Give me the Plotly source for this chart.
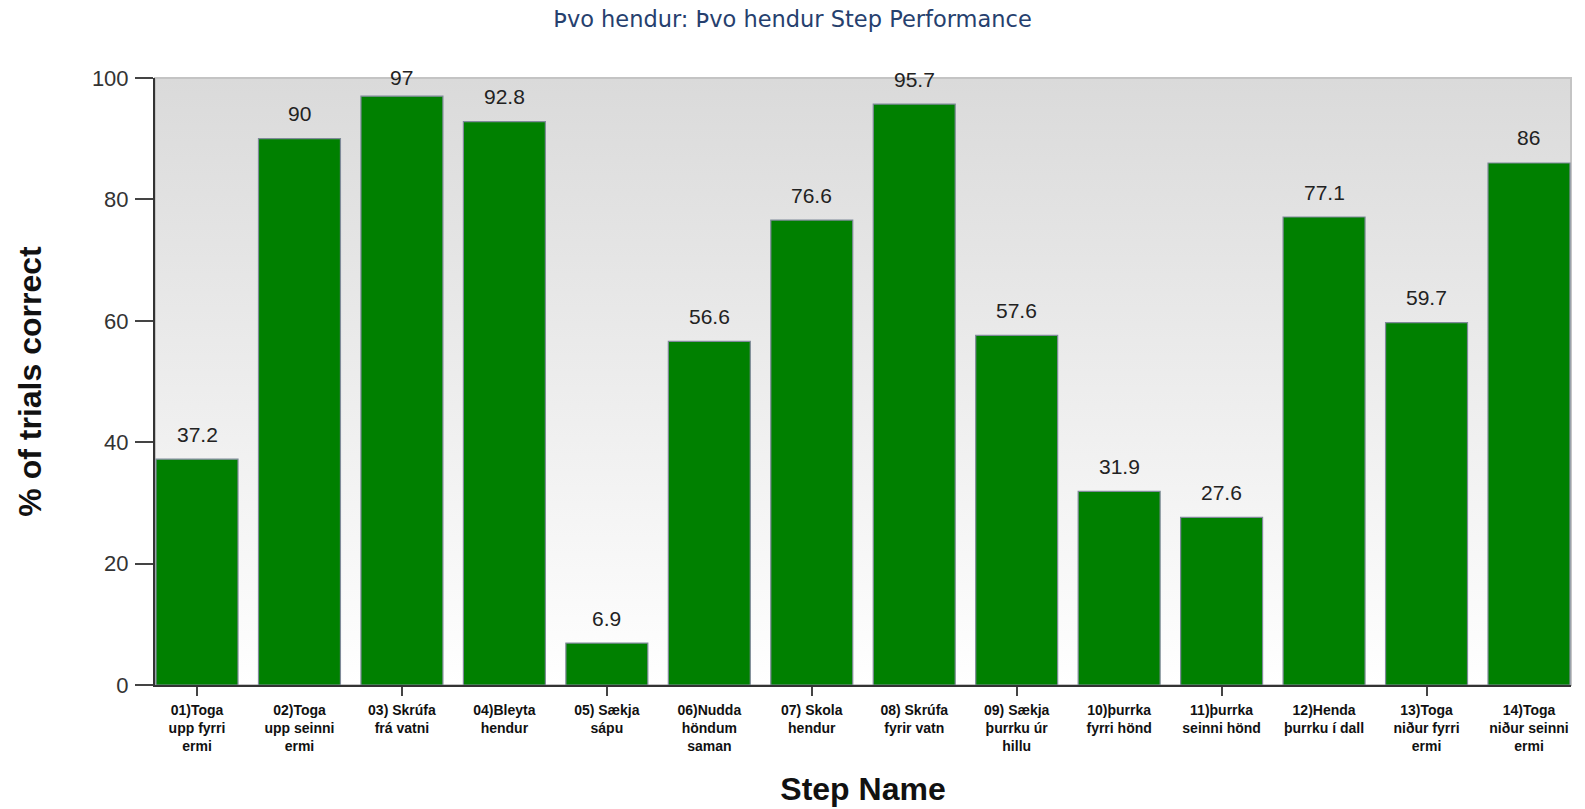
import base64
import plotly.graph_objects as go

title_text = "Þvo hendur: Þvo hendur Step Performance"
step_labels = [
    "01)Toga<br>upp fyrri<br>ermi",
    "02)Toga<br>upp seinni<br>ermi",
    "03) Skrúfa<br>frá vatni",
    "04)Bleyta<br>hendur",
    "05) Sækja<br>sápu",
    "06)Nudda<br>höndum<br>saman",
    "07) Skola<br>hendur",
    "08) Skrúfa<br>fyrir vatn",
    "09) Sækja<br>þurrku úr<br>hillu",
    "10)þurrka<br>fyrri hönd",
    "11)þurrka<br>seinni hönd",
    "12)Henda<br>þurrku í dall",
    "13)Toga<br>niður fyrri<br>ermi",
    "14)Toga<br>niður seinni<br>ermi",
]
pct_correct = [37.2, 90, 97, 92.8, 6.9, 56.6, 76.6, 95.7, 57.6, 31.9, 27.6, 77.1, 59.7, 86]
y_ticks = [0, 20, 40, 60, 80, 100]

positions = list(range(len(step_labels)))
FONT = "Liberation Sans, Arial, sans-serif"

H, MT, MB = 809, 78, 124
Y_MAX = 100
px_per_unit = (H - MT - MB) / Y_MAX

svg = ('<svg xmlns="http://www.w3.org/2000/svg" width="100" height="100" preserveAspectRatio="none">'
       '<defs><linearGradient id="g" x1="0" y1="0" x2="0" y2="1">'
       '<stop offset="0" stop-color="#dadada"/><stop offset="1" stop-color="#ffffff"/>'
       '</linearGradient></defs><rect width="100" height="100" fill="url(#g)"/></svg>')
bg_uri = "data:image/svg+xml;base64," + base64.b64encode(svg.encode()).decode()

fig = go.Figure()
fig.add_trace(go.Bar(
    x=positions, y=pct_correct, width=0.8,
    marker=dict(color="#008000", line=dict(color="#7f8a99", width=1.2)),
    hoverinfo="x+y", showlegend=False,
))

for p, v in zip(positions, pct_correct):
    shift = min(25, (Y_MAX - v) * px_per_unit + 1)  # value labels kept near the plot top
    fig.add_annotation(x=p, y=v, text=f"{v:g}", showarrow=False, yanchor="middle", yshift=shift,
                       font=dict(family=FONT, size=21, color="#222222"))

xr = [-0.41, len(step_labels) - 1 + 0.41]
label_pos = [p + 1e-6 for p in positions]  # labels at every step; tick marks (minor) on every other step
fig.update_layout(
    width=1585, height=H,
    margin=dict(l=155, r=14, t=MT, b=MB, autoexpand=False),
    paper_bgcolor="white", plot_bgcolor="rgba(0,0,0,0)",
    title=dict(text=title_text, x=0.5, xanchor="center", xref="container", y=0.976, yref="container", yanchor="middle",
               font=dict(family="DejaVu Sans", size=22.5, color="#26406e"), automargin=False),
    xaxis=dict(range=xr, tickmode="array", tickvals=label_pos, ticktext=step_labels, automargin=False,
               ticks="", showgrid=False, zeroline=False, showline=True, linecolor="#333333", linewidth=2,
               tickfont=dict(family=FONT, size=14, color="#111111", weight="bold"), ticklabelstandoff=11,
               minor=dict(tickmode="array", tickvals=positions[::2], ticks="outside", ticklen=9,
                          tickwidth=2, tickcolor="#444444", showgrid=False),
               title=dict(text="<b>Step Name</b>", font=dict(family=FONT, size=32, color="#111111"), standoff=24)),
    yaxis=dict(range=[0, Y_MAX], tickmode="array", tickvals=y_ticks, ticks="outside", ticklen=18, automargin=False,
               tickwidth=2, tickcolor="#444444", showgrid=False, zeroline=False, showline=True,
               linecolor="#333333", linewidth=2,
               tickfont=dict(family=FONT, size=22, color="#333333"), ticklabelstandoff=2,
               title=dict(text="<b>% of trials correct</b>", font=dict(family=FONT, size=32, color="#111111"), standoff=41)),
    images=[dict(source=bg_uri, xref="paper", yref="paper", x=0, y=1, sizex=1, sizey=1,
                 xanchor="left", yanchor="top", sizing="stretch", layer="below")],
    shapes=[dict(type="rect", xref="paper", yref="paper", x0=0, x1=1, y0=0, y1=1,
                 line=dict(color="#c4c4c4", width=2), layer="below")],
)

fig.write_html("out.html", config={"displayModeBar": False},
               post_script="document.body.style.margin='0';document.body.style.overflow='hidden';")
